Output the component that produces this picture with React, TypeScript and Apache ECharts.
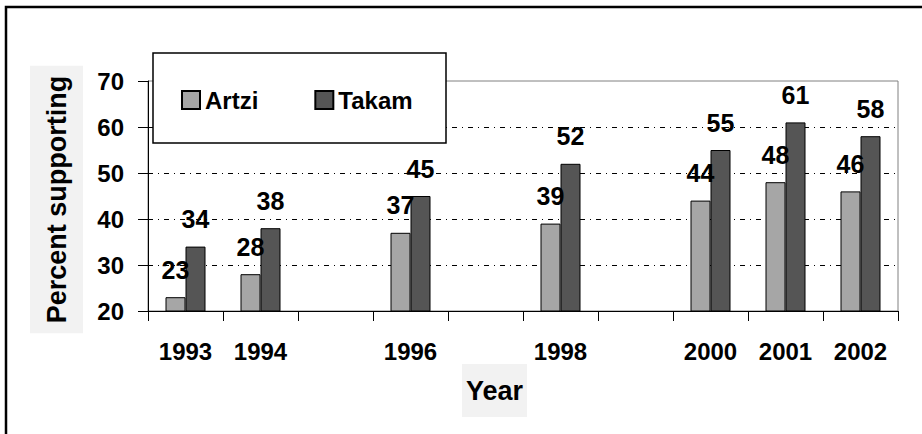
import React, { useEffect, useRef } from "react";
import * as echarts from "echarts";

const years = ["1993", "1994", "1995", "1996", "1997", "1998", "1999", "2000", "2001", "2002"];
const shownYears = ["1993", "1994", "1996", "1998", "2000", "2001", "2002"];
const artzi = [23, 28, null, 37, null, 39, null, 44, 48, 46];
const takam = [34, 38, null, 45, null, 52, null, 55, 61, 58];
const seriesNames = ["Artzi", "Takam"];
const yTitle = "Percent supporting";
const xTitle = "Year";

const FONT = "'Liberation Sans', Arial, sans-serif";

export default function App() {
  const ref = useRef<HTMLDivElement>(null);
  useEffect(() => {
    if (!ref.current) return;
    const chart = echarts.init(ref.current, undefined, { renderer: "svg" });
    const labelStyle = {
      show: true,
      position: "top",
      distance: 15,
      color: "#000",
      fontSize: 25,
      fontWeight: "bold",
      fontFamily: FONT,
    };
    chart.setOption({
      animation: false,
      backgroundColor: "#fff",
      textStyle: { fontFamily: FONT },
      grid: {
        left: 148,
        right: 24,
        top: 81,
        bottom: 123,
        show: true,
        borderColor: "#808080",
        borderWidth: 1,
        backgroundColor: "transparent",
      },
      legend: {
        data: seriesNames,
        left: 181,
        top: 88,
        padding: 0,
        itemWidth: 18,
        itemHeight: 18,
        itemGap: 56,
        icon: "rect",
        z: 20,
        textStyle: { fontSize: 24, fontWeight: "bold", color: "#000", fontFamily: FONT },
      },
      xAxis: {
        type: "category",
        data: years,
        boundaryGap: true,
        axisLine: { show: true, lineStyle: { color: "#000", width: 1 } },
        axisTick: { show: true, length: 10, interval: 0, alignWithLabel: false, lineStyle: { color: "#000" } },
        axisLabel: {
          interval: 0,
          margin: 28,
          fontSize: 24,
          fontWeight: "bold",
          color: "#000",
          fontFamily: FONT,
          formatter: (v: string) => (shownYears.includes(v) ? v : ""),
        },
        splitLine: { show: false },
      },
      yAxis: {
        type: "value",
        min: 20,
        max: 70,
        interval: 10,
        axisLine: { show: true, lineStyle: { color: "#000", width: 1 } },
        axisTick: { show: true, length: 10, lineStyle: { color: "#000" } },
        axisLabel: { margin: 24, fontSize: 24, fontWeight: "bold", color: "#000", fontFamily: FONT },
        splitLine: {
          show: true,
          showMinLine: false,
          showMaxLine: false,
          lineStyle: { color: "#000", width: 1, type: [5, 5, 1, 5] },
        },
      },
      series: [
        {
          name: seriesNames[0],
          type: "bar",
          data: artzi,
          barWidth: 20,
          barGap: "0%",
          itemStyle: { color: "#a6a6a6", borderColor: "#000", borderWidth: 1 },
          label: labelStyle,
        },
        {
          name: seriesNames[1],
          type: "bar",
          data: takam,
          barWidth: 20,
          barGap: "0%",
          itemStyle: { color: "#555555", borderColor: "#000", borderWidth: 1 },
          label: labelStyle,
        },
      ],
      graphic: [
        {
          type: "polyline",
          z: 30,
          shape: { points: [[6, 434], [6, 7], [922, 7]] },
          style: { stroke: "#000", lineWidth: 2.5, fill: null },
        },
        {
          type: "rect",
          z: 10,
          shape: { x: 153, y: 53, width: 293, height: 90 },
          style: { fill: "#fff", stroke: "#000", lineWidth: 1.5 },
        },
        {
          type: "text",
          z: 10,
          x: 56.5,
          y: 199.5,
          rotation: Math.PI / 2,
          style: {
            text: yTitle,
            fontSize: 27,
            fontWeight: "bold",
            fontFamily: FONT,
            fill: "#000",
            align: "center",
            verticalAlign: "middle",
            backgroundColor: "#f2f2f2",
            padding: [13, 10, 13, 10],
          },
        },
        {
          type: "text",
          z: 10,
          x: 494.5,
          y: 390.5,
          style: {
            text: xTitle,
            fontSize: 27,
            fontWeight: "bold",
            fontFamily: FONT,
            fill: "#000",
            align: "center",
            verticalAlign: "middle",
            backgroundColor: "#f2f2f2",
            padding: [13, 4, 13, 4],
          },
        },
      ],
    });
    return () => chart.dispose();
  }, []);
  return (
    <div
      ref={ref}
      style={{ position: "fixed", left: 0, top: 0, width: 922, height: 434 }}
    />
  );
}
